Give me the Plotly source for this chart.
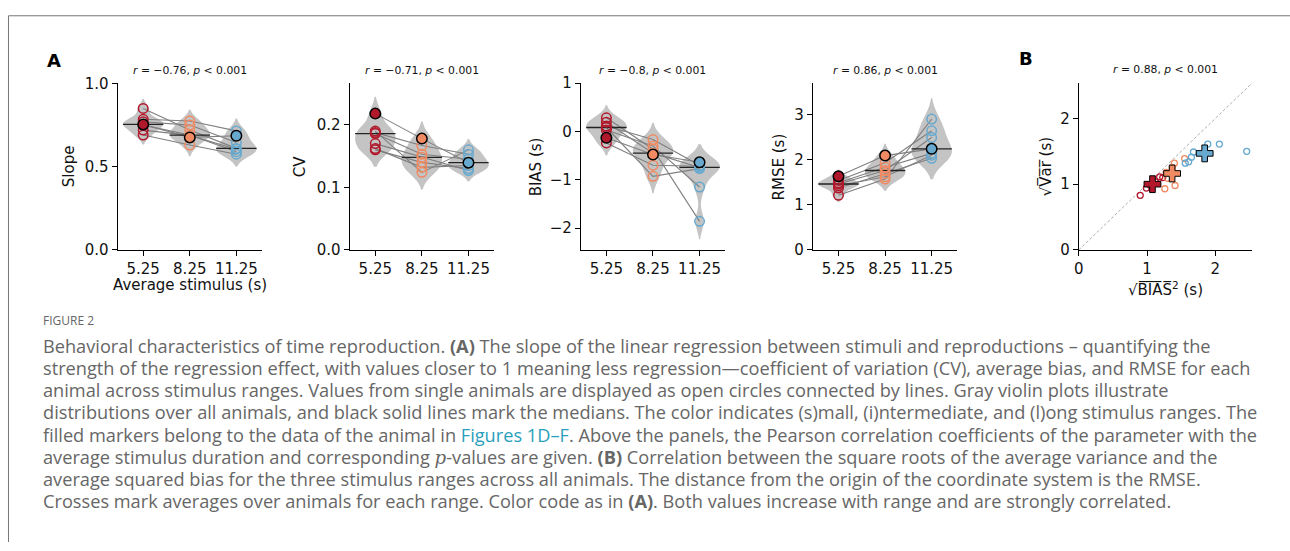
import numpy as np
import plotly.graph_objects as go

W, H = 1290, 551

# ---------------- data ----------------
stimulus_means = [5.25, 8.25, 11.25]
stimulus_tick_labels = ["5.25", "8.25", "11.25"]
range_colors = ["#b2182b", "#ef8a62", "#67a9cf"]

# index 0 = animal of Figures 1D-F (filled markers)
slope_small = [0.754, 0.85, 0.785, 0.77, 0.75, 0.72, 0.69]
slope_mid = [0.676, 0.72, 0.775, 0.75, 0.69, 0.688, 0.63]
slope_long = [0.686, 0.61, 0.715, 0.645, 0.59, 0.605, 0.575]

cv_small = [0.218, 0.19, 0.1876, 0.186, 0.17, 0.16, 0.162]
cv_mid = [0.178, 0.124, 0.167, 0.153, 0.148, 0.14, 0.132]
cv_long = [0.1395, 0.16, 0.153, 0.145, 0.127, 0.13, 0.135]

bias_small = [-0.134, 0.28, 0.19, 0.11, 0.08, 0.03, -0.24]
bias_mid = [-0.48, -0.37, -0.45, -0.17, -0.93, -0.30, -0.70]
bias_long = [-0.64, -1.86, -0.745, -0.70, -0.77, -1.15, -0.72]

rmse_small = [1.63, 1.21, 1.46, 1.54, 1.37, 1.49, 1.42]
rmse_mid = [2.09, 1.57, 1.76, 1.93, 1.69, 1.83, 1.62]
rmse_long = [2.24, 2.9, 2.49, 2.64, 2.03, 2.14, 2.10]

panel_titles = ["<i>r</i> = −0.76, <i>p</i> &lt; 0.001",
                "<i>r</i> = −0.71, <i>p</i> &lt; 0.001",
                "<i>r</i> = −0.8, <i>p</i> &lt; 0.001",
                "<i>r</i> = 0.86, <i>p</i> &lt; 0.001"]
panel_b_title = "<i>r</i> = 0.88, <i>p</i> &lt; 0.001"

sqrt_bias2_small = [0.90, 0.99, 1.185, 1.23, 1.05, 1.12, 1.08]
sqrt_var_small = [0.83, 0.94, 1.11, 1.10, 0.98, 1.04, 1.00]
sqrt_bias2_mid = [1.26, 1.28, 1.30, 1.40, 1.41, 1.37, 1.55]
sqrt_var_mid = [0.93, 1.18, 1.09, 1.32, 0.98, 1.25, 1.39]
sqrt_bias2_long = [1.56, 1.61, 1.65, 1.68, 1.89, 2.06, 2.46]
sqrt_var_long = [1.32, 1.34, 1.41, 1.49, 1.61, 1.61, 1.50]

caption_lines = [
    "Behavioral characteristics of time reproduction. <b>(A)</b> The slope of the linear regression between stimuli and reproductions – quantifying the",
    "strength of the regression effect, with values closer to 1 meaning less regression—coefficient of variation (CV), average bias, and RMSE for each",
    "animal across stimulus ranges. Values from single animals are displayed as open circles connected by lines. Gray violin plots illustrate",
    "distributions over all animals, and black solid lines mark the medians. The color indicates (s)mall, (i)ntermediate, and (l)ong stimulus ranges. The",
    "filled markers belong to the data of the animal in <span style='color:#2a9fbc'>Figures 1D–F</span>. Above the panels, the Pearson correlation coefficients of the parameter with the",
    "average stimulus duration and corresponding <span style='font-family:DejaVu Serif'><i>p</i></span>-values are given. <b>(B)</b> Correlation between the square roots of the average variance and the",
    "average squared bias for the three stimulus ranges across all animals. The distance from the origin of the coordinate system is the RMSE.",
    "Crosses mark averages over animals for each range. Color code as in <b>(A)</b>. Both values increase with range and are strongly correlated.",
]

# ---------------- layout helpers ----------------
def px(x):
    return x / W

def py(y):
    return 1 - y / H

AX_TOP, AX_BOT = 76.5, 249
TICK_FONT = dict(family="DejaVu Sans", size=15, color="#111")

panels = [
    dict(groups=[slope_small, slope_mid, slope_long], ylabel="Slope", xdom=(113, 258),
         yrange=[0, 1.003], yticks=[0, 0.5, 1.0], fmt=".1f", ylab_x=65),
    dict(groups=[cv_small, cv_mid, cv_long], ylabel="CV", xdom=(346, 491),
         yrange=[0, 0.267], yticks=[0, 0.1, 0.2], fmt=".1f", ylab_x=297),
    dict(groups=[bias_small, bias_mid, bias_long], ylabel="BIAS (s)", xdom=(578, 723),
         yrange=[-2.45, 1.0], yticks=[-2, -1, 0, 1], fmt="d", ylab_x=533),
    dict(groups=[rmse_small, rmse_mid, rmse_long], ylabel="RMSE (s)", xdom=(811, 956),
         yrange=[0, 3.70], yticks=[0, 1, 2, 3], fmt="d", ylab_x=777),
]

fig = go.Figure()
layout = dict(width=W, height=H, margin=dict(l=0, r=0, t=0, b=0),
              paper_bgcolor="white", plot_bgcolor="white",
              showlegend=False, violinmode="overlay")
annotations = []

def note(text, x, y, size, family="DejaVu Sans", color="#111", xanchor="center", angle=0):
    annotations.append(dict(text=text, x=px(x), y=py(y), xref="paper", yref="paper",
                            showarrow=False, xanchor=xanchor, yanchor="middle",
                            textangle=angle, borderpad=0,
                            font=dict(family=family, size=size, color=color)))

def axis_common():
    return dict(showline=True, linecolor="black", linewidth=1, ticks="outside",
                ticklen=5, tickwidth=1, tickcolor="black", showgrid=False,
                zeroline=False, tickfont=TICK_FONT)

VIOLIN_W = 2.6
for i, p in enumerate(panels):
    k = i + 1
    xa, ya = f"x{k}", f"y{k}"
    layout[f"xaxis{k}"] = dict(axis_common(), domain=[px(p["xdom"][0]), px(p["xdom"][1])],
                               range=[3.6, 12.9], tickvals=stimulus_means,
                               ticktext=stimulus_tick_labels, anchor=ya)
    layout[f"yaxis{k}"] = dict(axis_common(), domain=[py(AX_BOT), py(AX_TOP)],
                               range=p["yrange"], tickvals=p["yticks"],
                               tickformat=p["fmt"], anchor=xa)
    groups = p["groups"]
    for g, c in zip(groups, stimulus_means):
        fig.add_trace(go.Violin(x0=c, y=g, xaxis=xa, yaxis=ya, width=VIOLIN_W,
                                scalemode="width", spanmode="soft", points=False,
                                fillcolor="#c4c4c4", line=dict(width=0, color="#c4c4c4"),
                                opacity=1, hoverinfo="skip"))
    n = len(groups[0])
    for a in range(n):
        fig.add_trace(go.Scatter(x=stimulus_means, y=[g[a] for g in groups], xaxis=xa, yaxis=ya,
                                 mode="lines", line=dict(color="#7f7f7f", width=1.1),
                                 hoverinfo="skip"))
    for g, c in zip(groups, stimulus_means):
        m = float(np.median(g))
        fig.add_trace(go.Scatter(x=[c - VIOLIN_W / 2, c + VIOLIN_W / 2], y=[m, m], xaxis=xa, yaxis=ya,
                                 mode="lines", line=dict(color="#222", width=1.3), hoverinfo="skip"))
    for g, c, col in zip(groups, stimulus_means, range_colors):
        fig.add_trace(go.Scatter(x=[c] * (n - 1), y=g[1:], xaxis=xa, yaxis=ya, mode="markers",
                                 marker=dict(symbol="circle-open", size=9.5, color=col,
                                             line=dict(width=1.5, color=col))))
    fig.add_trace(go.Scatter(x=stimulus_means, y=[g[0] for g in groups], xaxis=xa, yaxis=ya,
                             mode="markers",
                             marker=dict(symbol="circle", size=10.5, color=range_colors,
                                         line=dict(width=1.5, color="black"))))
    xc = (p["xdom"][0] + p["xdom"][1]) / 2
    note(panel_titles[i], xc, 64, 10.8)
    note(p["ylabel"], p["ylab_x"], (AX_TOP + AX_BOT) / 2, 15, angle=-90)

# panel B
BX0, BX1 = 1078, 1252
B_MAX = 2.54
layout["xaxis5"] = dict(axis_common(), domain=[px(BX0), px(BX1)], range=[0, B_MAX],
                        tickvals=[0, 1, 2], anchor="y5")
layout["yaxis5"] = dict(axis_common(), domain=[py(AX_BOT), py(AX_TOP)], range=[0, B_MAX],
                        tickvals=[0, 1, 2], anchor="x5")
fig.add_trace(go.Scatter(x=[0, B_MAX], y=[0, B_MAX], xaxis="x5", yaxis="y5", mode="lines",
                         line=dict(color="#999", width=0.8, dash="3px,2px"), hoverinfo="skip"))
b_groups = [(sqrt_bias2_small, sqrt_var_small), (sqrt_bias2_mid, sqrt_var_mid),
            (sqrt_bias2_long, sqrt_var_long)]
for (bx, by), col in zip(b_groups, range_colors):
    fig.add_trace(go.Scatter(x=bx, y=by, xaxis="x5", yaxis="y5", mode="markers",
                             marker=dict(symbol="circle-open", size=6, color=col,
                                         line=dict(width=1.3, color=col))))
for (bx, by), col in zip(b_groups, range_colors):
    fig.add_trace(go.Scatter(x=[float(np.mean(bx))], y=[float(np.mean(by))], xaxis="x5", yaxis="y5",
                             mode="markers",
                             marker=dict(symbol="cross", size=14, color=col,
                                         line=dict(width=1, color="black"))))
note(panel_b_title, (BX0 + BX1) / 2, 63, 10.8)
note("√V\u0305a\u0305r\u0305 (s)", 1045, (AX_TOP + AX_BOT) / 2, 15, angle=-90)
note("√B\u0305I\u0305A\u0305S\u0305<sup>2</sup> (s)", (BX0 + BX1) / 2, 289, 15)
note("Average stimulus (s)", 185.5, 285, 15)

# panel letters
note("<b>A</b>", 49, 53, 18, color="black")
note("<b>B</b>", 1025, 51, 18, color="black")

# caption
note("FIGURE 2", 37, 322, 12, family="Open Sans", color="#666", xanchor="left")
for j, line in enumerate(caption_lines):
    note(line, 37, 348 + 23 * j, 18.2, family="Open Sans", color="#666", xanchor="left")

layout["annotations"] = annotations
layout["shapes"] = [
    dict(type="line", xref="paper", yref="paper", x0=px(3.5), x1=1, y0=py(7), y1=py(7),
         line=dict(color="#777", width=1)),
    dict(type="line", xref="paper", yref="paper", x0=px(3.5), x1=px(3.5), y0=py(7), y1=0,
         line=dict(color="#777", width=1)),
]
fig.update_layout(**layout)
fig.write_html("out.html", config={"displayModeBar": False},
               post_script="document.body.style.margin='0';")
